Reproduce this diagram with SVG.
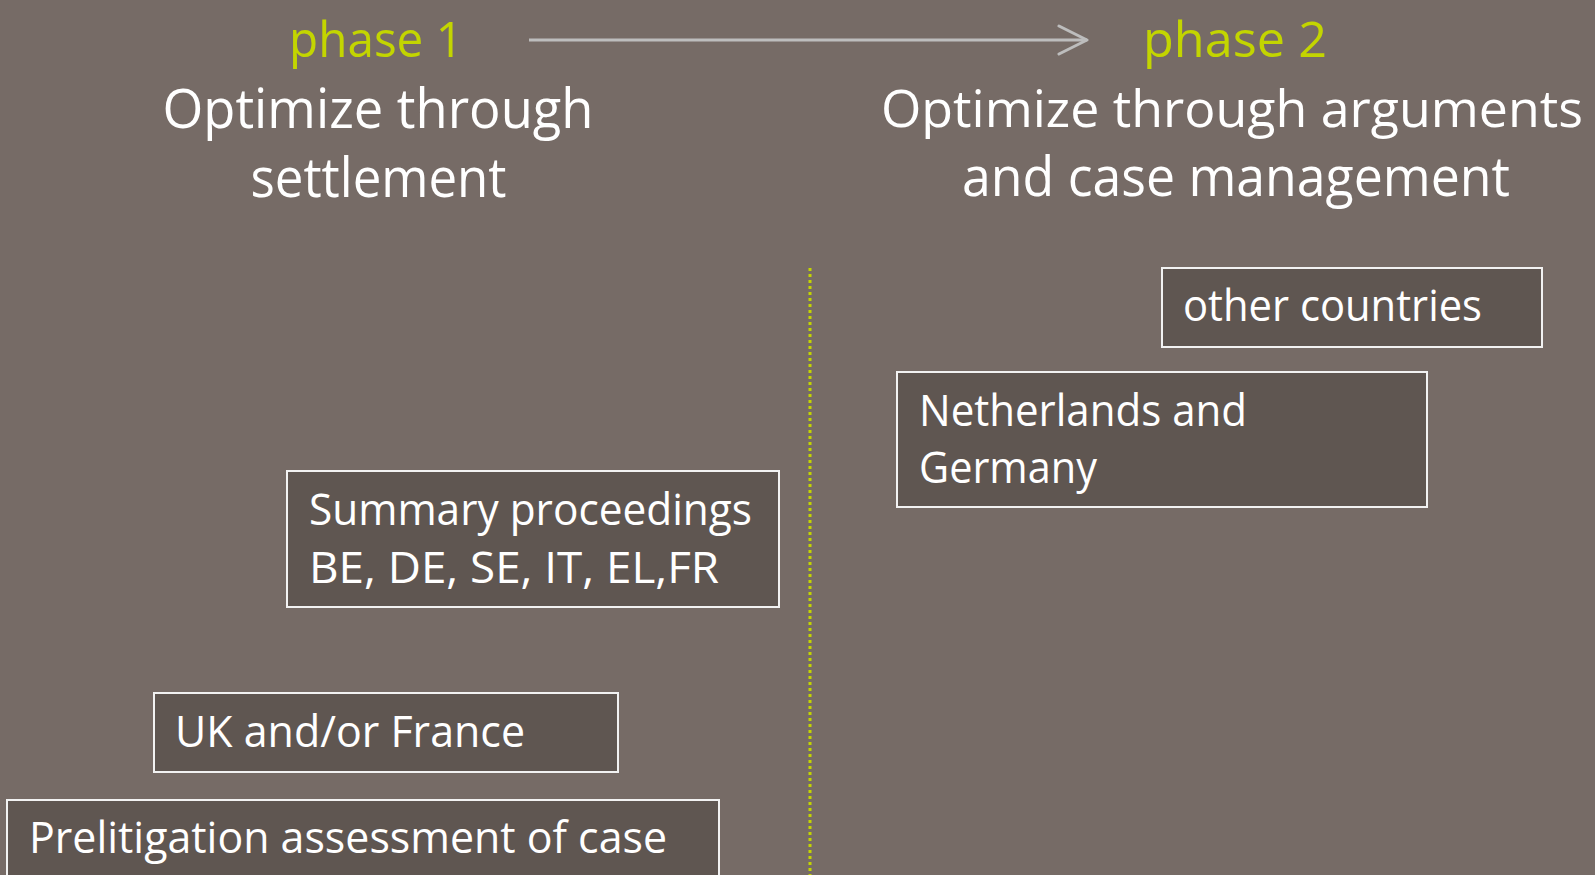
<svg xmlns="http://www.w3.org/2000/svg" width="1595" height="875" viewBox="0 0 1595 875">
<defs>
<style>
.t{font-family:"Open Sans","Liberation Sans",sans-serif;fill:#ffffff}
.ph{font-family:"Open Sans","Liberation Sans",sans-serif;fill:#c3d500;font-size:49px}
.ttl{font-size:54px}
.bx{font-size:43px}
.box{fill:#5f5651;stroke:#f2f2f2;stroke-width:2}
</style>
<marker id="chev" viewBox="0 0 32 32" refX="30" refY="16" markerWidth="32" markerHeight="32" markerUnits="userSpaceOnUse" orient="auto">
<path d="M2,2 L30,16 L2,30" fill="none" stroke="#bdbdbd" stroke-width="3" stroke-linecap="round" stroke-linejoin="round"/>
</marker>
</defs>
<rect x="0" y="0" width="1595" height="875" fill="#766b66"/>
<g id="connectors">
<line x1="529" y1="40" x2="1087" y2="40" stroke="#bdbdbd" stroke-width="3" marker-end="url(#chev)"/>
<line x1="810" y1="268" x2="810" y2="875" stroke="#c3d500" stroke-width="3" stroke-dasharray="3 3"/>
</g>
<g id="phase1">
<text class="ph" x="376" y="57" text-anchor="middle" textLength="174" lengthAdjust="spacingAndGlyphs">phase 1</text>
<text class="t ttl" x="378" y="128" text-anchor="middle" textLength="431" lengthAdjust="spacingAndGlyphs">Optimize through</text>
<text class="t ttl" x="378.5" y="197" text-anchor="middle" textLength="256" lengthAdjust="spacingAndGlyphs">settlement</text>
</g>
<g id="phase2">
<text class="ph" x="1235" y="57" text-anchor="middle" textLength="184" lengthAdjust="spacingAndGlyphs">phase 2</text>
<text class="t" x="1232" y="127" text-anchor="middle" font-size="52" textLength="702" lengthAdjust="spacingAndGlyphs">Optimize through arguments</text>
<text class="t ttl" x="1236" y="196" text-anchor="middle" textLength="548" lengthAdjust="spacingAndGlyphs">and case management</text>
</g>
<g id="other-countries">
<rect class="box" x="1162" y="268" width="380" height="79"/>
<text class="t bx" x="1183" y="321" textLength="299" lengthAdjust="spacingAndGlyphs">other countries</text>
</g>
<g id="netherlands-germany">
<rect class="box" x="897" y="372" width="530" height="135"/>
<text class="t bx" x="919" y="426" textLength="328" lengthAdjust="spacingAndGlyphs">Netherlands and</text>
<text class="t bx" x="919" y="483" textLength="178" lengthAdjust="spacingAndGlyphs">Germany</text>
</g>
<g id="summary-proceedings">
<rect class="box" x="287" y="471" width="492" height="136"/>
<text class="t bx" x="309" y="525" textLength="443" lengthAdjust="spacingAndGlyphs">Summary proceedings</text>
<text class="t bx" x="309" y="583" textLength="410" lengthAdjust="spacingAndGlyphs">BE, DE, SE, IT, EL,FR</text>
</g>
<g id="uk-france">
<rect class="box" x="154" y="693" width="464" height="79"/>
<text class="t bx" x="175" y="747" textLength="350" lengthAdjust="spacingAndGlyphs">UK and/or France</text>
</g>
<g id="prelitigation">
<rect class="box" x="7" y="800" width="712" height="90"/>
<text class="t bx" x="29" y="853" textLength="638" lengthAdjust="spacingAndGlyphs">Prelitigation assessment of case</text>
</g>
</svg>
